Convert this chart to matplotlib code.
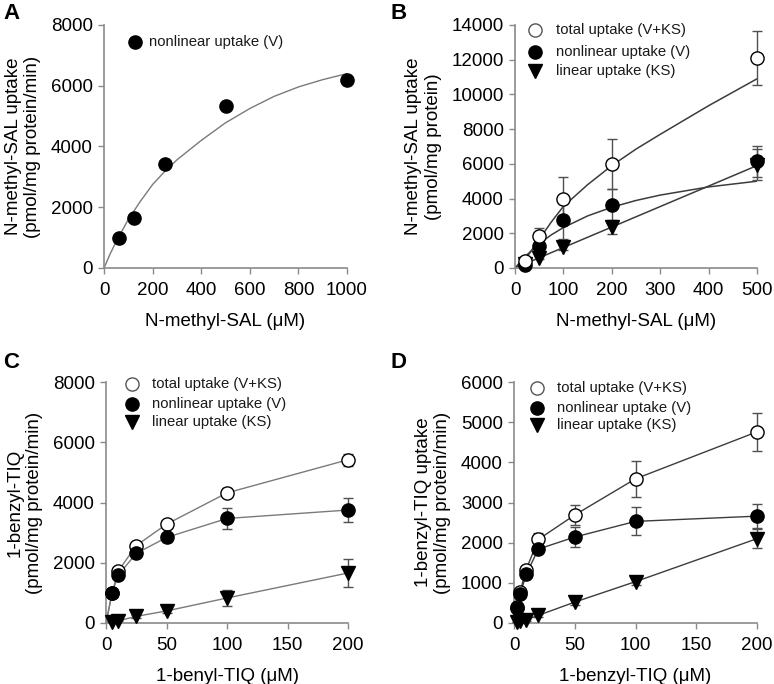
import numpy as np
import matplotlib
matplotlib.use("Agg")
import matplotlib.pyplot as plt

plt.rcParams['font.family'] = ['Liberation Sans', 'DejaVu Sans']

# panel A
a_x = [62.5, 125, 250, 500, 1000]
a_v = [1000, 1650, 3430, 5330, 6180]
a_fit_x = [0, 25, 50, 100, 150, 200, 250, 300, 400, 500, 600, 700, 800, 900, 1000]
a_fit_y = [0, 460, 870, 1600, 2200, 2750, 3180, 3560, 4200, 4780, 5250, 5650, 5960, 6200, 6400]

# panel B
b_x = [20, 50, 100, 200, 500]
b_total = [400, 1850, 3950, 6000, 12100]
b_total_err = [150, 450, 1300, 1450, 1550]
b_v = [150, 1250, 2750, 3600, 6150]
b_v_err = [100, 300, 1100, 950, 900]
b_ks = [220, 600, 1200, 2350, 5950]
b_ks_err = [50, 100, 150, 400, 900]
b_fit_x = [0, 20, 50, 75, 100, 150, 200, 250, 300, 400, 500]
b_fit_total = [0, 450, 1650, 2650, 3550, 4800, 5900, 6850, 7700, 9350, 10900]
b_fit_v = [0, 640, 1400, 1910, 2330, 3000, 3500, 3890, 4200, 4670, 5000]
b_fit_ks = [0, 240, 590, 885, 1180, 1770, 2360, 2950, 3540, 4720, 5900]

# panel C
c_x = [5, 10, 25, 50, 100, 200]
c_total = [1000, 1720, 2570, 3280, 4320, 5420]
c_total_err = [60, 80, 100, 120, 150, 200]
c_v = [1000, 1590, 2310, 2840, 3470, 3750]
c_v_err = [60, 100, 120, 150, 350, 400]
c_ks = [40, 70, 220, 400, 830, 1660]
c_ks_err = [10, 20, 40, 60, 250, 470]

# panel D
d_x = [2.5, 5, 10, 20, 50, 100, 200]
d_total = [400, 780, 1330, 2080, 2690, 3590, 4760]
d_total_err = [40, 60, 80, 150, 250, 450, 470]
d_v = [370, 710, 1210, 1840, 2140, 2530, 2660]
d_v_err = [40, 60, 80, 100, 250, 350, 300]
d_ks = [20, 40, 80, 190, 520, 1030, 2100]
d_ks_err = [5, 10, 20, 40, 60, 80, 230]

LIGHT = '#7a7a7a'
DARK = '#3c3c3c'
SPINE = '#8a8a8a'
MS = 9.5

labels = ['total uptake (V+KS)', 'nonlinear uptake (V)', 'linear uptake (KS)']
styles = [('o', 'white', '#555555'), ('o', 'black', 'black'), ('v', 'black', 'black')]


def style(ax, xmax, ymax, xstep, ystep):
    ax.set_xlim(0, xmax)
    ax.set_ylim(0, ymax)
    ax.set_xticks(np.arange(0, xmax + 1, xstep))
    ax.set_yticks(np.arange(0, ymax + 1, ystep))
    for s in ['top', 'right']:
        ax.spines[s].set_visible(False)
    for s in ['left', 'bottom']:
        ax.spines[s].set_color(SPINE)
        ax.spines[s].set_linewidth(1.2)
    ax.tick_params(direction='out', length=4, width=1, color=SPINE,
                   labelsize=13.5)
    ax.tick_params(axis='x', pad=6)
    ax.tick_params(axis='y', pad=4)


def series(ax, x, y, err, marker, face):
    ax.errorbar(x, y, yerr=err, fmt='none', ecolor='#505050', elinewidth=1,
                capsize=3.8, capthick=1, clip_on=False, zorder=2)
    ax.plot(x, y, linestyle='none', marker=marker, markersize=MS,
            markerfacecolor=face, markeredgecolor='black', markeredgewidth=1,
            clip_on=False, zorder=3)


def key(ax, mx, tx, ys, items):
    for y, (lab, (m, fc, ec)) in zip(ys, items):
        ax.plot([mx], [y], transform=ax.transAxes, linestyle='none', marker=m,
                markersize=MS, markerfacecolor=fc, markeredgecolor=ec,
                clip_on=False, zorder=4)
        ax.text(tx, y, lab, transform=ax.transAxes, fontsize=10.7,
                va='center', ha='left', color='#1a1a1a')


fig = plt.figure(figsize=(7.74, 6.84), dpi=100)

# A
ax = fig.add_axes([0.1344, 0.6082, 0.314, 0.3553])
style(ax, 1000, 8000, 200, 2000)
ax.plot(a_fit_x, a_fit_y, color=LIGHT, linewidth=1)
ax.plot(a_x, a_v, linestyle='none', marker='o', markersize=MS,
        color='black', clip_on=False, zorder=3)
key(ax, 0.128, 0.185, [0.930], [('nonlinear uptake (V)', styles[1])])
ax.set_xlabel('N-methyl-SAL (μM)', fontsize=13.5, labelpad=10)
ax.set_ylabel('N-methyl-SAL uptake\n(pmol/mg protein/min)', fontsize=13.5, labelpad=7)

# B
ax = fig.add_axes([0.6654, 0.6082, 0.3127, 0.3553])
style(ax, 500, 14000, 100, 2000)
for fy in (b_fit_total, b_fit_v, b_fit_ks):
    ax.plot(b_fit_x, fy, color=DARK, linewidth=1.1, zorder=1)
series(ax, b_x, b_ks, b_ks_err, 'v', 'black')
series(ax, b_x, b_v, b_v_err, 'o', 'black')
series(ax, b_x, b_total, b_total_err, 'o', 'white')
key(ax, 0.083, 0.170, [0.979, 0.889, 0.811], list(zip(labels, styles)))
ax.set_xlabel('N-methyl-SAL (μM)', fontsize=13.5, labelpad=10)
ax.set_ylabel('N-methyl-SAL uptake\n(pmol/mg protein)', fontsize=13.5, labelpad=7)

# C
ax = fig.add_axes([0.137, 0.0892, 0.3127, 0.3523])
style(ax, 200, 8000, 50, 2000)
for vy in (c_total, c_v, c_ks):
    ax.plot([0] + c_x, [0] + vy, color=LIGHT, linewidth=1, zorder=1)
series(ax, c_x, c_ks, c_ks_err, 'v', 'black')
series(ax, c_x, c_total, c_total_err, 'o', 'white')
series(ax, c_x, c_v, c_v_err, 'o', 'black')
key(ax, 0.107, 0.188, [0.990, 0.910, 0.832], list(zip(labels, styles)))
ax.set_xlabel('1-benyl-TIQ (μM)', fontsize=13.5, labelpad=10)
ax.set_ylabel('1-benzyl-TIQ\n(pmol/mg protein/min)', fontsize=13.5, labelpad=7)

# D
ax = fig.add_axes([0.6641, 0.0892, 0.314, 0.3523])
style(ax, 200, 6000, 50, 1000)
for vy in (d_total, d_v, d_ks):
    ax.plot([0] + d_x, [0] + vy, color=DARK, linewidth=1, zorder=1)
series(ax, d_x, d_ks, d_ks_err, 'v', 'black')
series(ax, d_x, d_total, d_total_err, 'o', 'white')
series(ax, d_x, d_v, d_v_err, 'o', 'black')
key(ax, 0.095, 0.177, [0.975, 0.892, 0.822], list(zip(labels, styles)))
ax.set_xlabel('1-benzyl-TIQ (μM)', fontsize=13.5, labelpad=10)
ax.set_ylabel('1-benzyl-TIQ uptake\n(pmol/mg protein/min)', fontsize=13.5, labelpad=7)

for letter, x, y in [('A', 0.004, 0.995), ('B', 0.505, 0.995),
                     ('C', 0.004, 0.485), ('D', 0.505, 0.485)]:
    fig.text(x, y, letter, fontsize=16, fontweight='bold', va='top')

fig.savefig('out.png', dpi=100)
